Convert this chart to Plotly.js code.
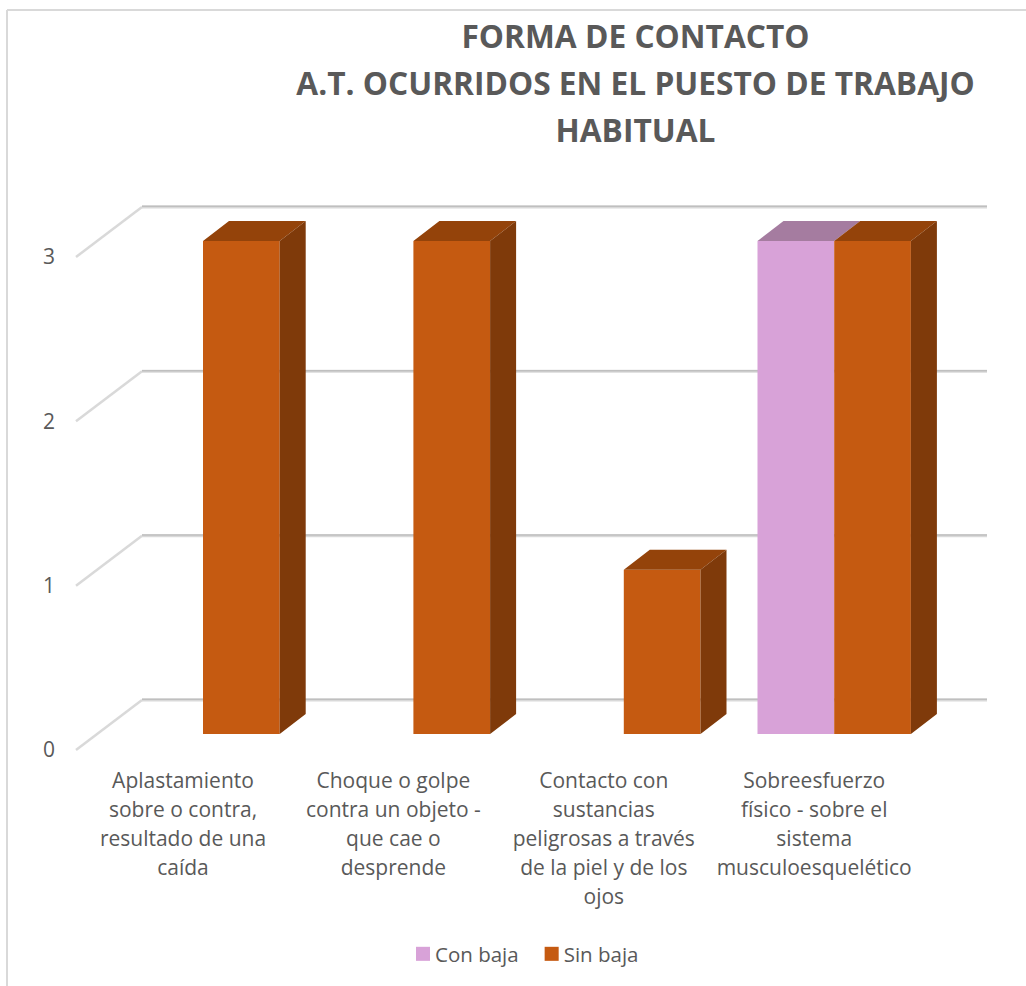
<!DOCTYPE html>
<html>
<head>
<meta charset="utf-8">
<script src="https://cdn.plot.ly/plotly-3.0.0.min.js"></script>
<style>html,body{margin:0;padding:0;background:#fff;overflow:hidden}#chart{width:1026px;height:986px}</style>
</head>
<body>
<div id="chart"></div>
<script>
const categories = [
  "Aplastamiento<br>sobre o contra,<br>resultado de una<br>caída",
  "Choque o golpe<br>contra un objeto -<br>que cae o<br>desprende",
  "Contacto con<br>sustancias<br>peligrosas a través<br>de la piel y de los<br>ojos",
  "Sobreesfuerzo<br>físico - sobre el<br>sistema<br>musculoesquelético"
];
const conBaja = [0, 0, 0, 3];
const sinBaja = [3, 3, 1, 3];
const yTicks = [0, 1, 2, 3];
const titleText = "FORMA DE CONTACTO<br>A.T. OCURRIDOS EN EL PUESTO DE TRABAJO<br>HABITUAL";

// layout constants (pixels of the picture -> axis units)
const W = 1026, H = 986, mL = 58, mT = 190, mB = 218;
const unitX = 210.4, unitY = 164.33;
const xRange = [(mL - 183) / unitX, (W - 183) / unitX];
const yRange = [(750 - (H - mB)) / unitY, (750 - mT) / unitY];
const barW = 76.7 / unitX;
const floorDX = 20 / unitX, floorDY = 16 / unitY;   // bars sit this far behind the front plane
const depthDX = 26 / unitX, depthDY = 20 / unitY;   // depth of each bar
const wallDX = 66 / unitX, wallDY = 50 / unitY;     // depth of the floor
const wallLeft = (76 - 183) / unitX, wallRight = (987 - 183) / unitX;

const idx = categories.map((_, i) => i);
const barX = idx.map(i => i + floorDX);

function faces(values, centreShift) {
  const top = {x: [], y: []}, side = {x: [], y: []};
  values.forEach((v, i) => {
    if (!v) return;
    const x0 = barX[i] + centreShift - barW / 2, x1 = x0 + barW;
    const y0 = floorDY, y1 = floorDY + v;
    top.x.push(x0, x1, x1 + depthDX, x0 + depthDX, x0, null);
    top.y.push(y1, y1, y1 + depthDY, y1 + depthDY, y1, null);
    side.x.push(x1, x1 + depthDX, x1 + depthDX, x1, x1, null);
    side.y.push(y0, y0 + depthDY, y1 + depthDY, y1, y0, null);
  });
  return {top, side};
}
function poly(p, color) {
  return {type: "scatter", mode: "lines", x: p.x, y: p.y, fill: "toself", fillcolor: color,
          line: {width: 0, color: color}, hoverinfo: "skip", showlegend: false};
}
const fCon = faces(conBaja, -barW / 2), fSin = faces(sinBaja, barW / 2);

const data = [
  {type: "bar", name: "Con baja", x: barX, y: conBaja, base: floorDY, marker: {color: "#d8a2d8"}},
  {type: "bar", name: "Sin baja", x: barX, y: sinBaja, base: floorDY, marker: {color: "#c55a11"}},
  poly(fCon.top, "#a57ca0"),
  poly(fSin.top, "#94430a"), poly(fSin.side, "#7f3a0a")
];

const shapes = [];
yTicks.forEach(v => {
  const backX = wallLeft + wallDX, backY = v + wallDY;
  shapes.push({type: "line", layer: "below", xref: "x", yref: "y", x0: wallLeft, y0: v, x1: backX, y1: backY,
               line: {color: "#d9d9d9", width: 2.5}});
  shapes.push({type: "line", layer: "below", xref: "x", yref: "y", x0: backX, y0: backY, x1: wallRight, y1: backY,
               line: {color: "#d9d9d9", width: 3}});
  shapes.push({type: "line", layer: "below", xref: "x", yref: "y", x0: backX, y0: backY + 0.7 / unitY, x1: wallRight, y1: backY + 0.7 / unitY,
               line: {color: "#bfbfbf", width: 1.5}});
});
const pH = H - mT - mB, pW = W - mL;
const frameX = (7 - mL) / pW, frameY = (H - mB - 10) / pH;
shapes.push({type: "line", xref: "paper", yref: "paper", x0: frameX, x1: frameX, y0: frameY, y1: -mB / pH, line: {color: "#d9d9d9", width: 2}});
shapes.push({type: "line", xref: "paper", yref: "paper", x0: frameX, x1: (W - mL) / pW, y0: frameY, y1: frameY, line: {color: "#d9d9d9", width: 2}});

const font = "'Open Sans', sans-serif";
const layout = {
  width: W, height: H, autosize: false,
  margin: {l: mL, r: 0, t: mT, b: mB, pad: 0},
  paper_bgcolor: "#fff", plot_bgcolor: "#fff",
  font: {family: font, color: "#595959", size: 21},
  title: {text: titleText, x: 635.5 / W, xanchor: "center", y: 1 - 48 / H, yanchor: "middle",
          font: {family: font, size: 31.7, color: "#595959", weight: 700}},
  barmode: "group", bargap: 1 - 2 * barW, bargroupgap: 0,
  xaxis: {range: xRange, tickmode: "array", tickvals: idx, ticktext: categories, tickangle: 0,
          showgrid: false, zeroline: false, showline: false, ticks: "", automargin: false,
          tickfont: {family: font, size: 21, color: "#595959"}},
  yaxis: {range: yRange, tickmode: "array", tickvals: yTicks, ticktext: yTicks.map(String),
          showgrid: false, zeroline: false, showline: false, ticks: "", automargin: false,
          ticklabelstandoff: 2,
          tickfont: {family: font, size: 21, color: "#595959"}},
  legend: {orientation: "h", x: 527.5 / W, xanchor: "center", xref: "container", y: 1 - 954 / H, yanchor: "middle", yref: "container",
           font: {family: font, size: 20.5, color: "#595959"}, itemwidth: 30, traceorder: "normal"},
  shapes: shapes,
  showlegend: true
};

function spaceLines(textEl, gap, shift) {
  textEl.querySelectorAll("tspan.line").forEach((l, k) => {
    l.setAttribute("dy", (k * gap + shift) + "px");
  });
}

Plotly.newPlot("chart", data, layout, {displayModeBar: false, staticPlot: true}).then(gd => {
  gd.querySelectorAll(".xtick text").forEach(t => spaceLines(t, 29.1, -2));
  const tt = gd.querySelector(".gtitle");
  if (tt) spaceLines(tt, 47, 0);
  gd.querySelectorAll(".legend .legendtext").forEach(t => {
    t.setAttribute("x", parseFloat(t.getAttribute("x")) - 8);
  });
  gd.querySelectorAll(".legend .legendpoints path").forEach(p => {
    p.setAttribute("transform", (p.getAttribute("transform") || "") + " scale(1.17)");
  });
});
</script>
</body>
</html>
